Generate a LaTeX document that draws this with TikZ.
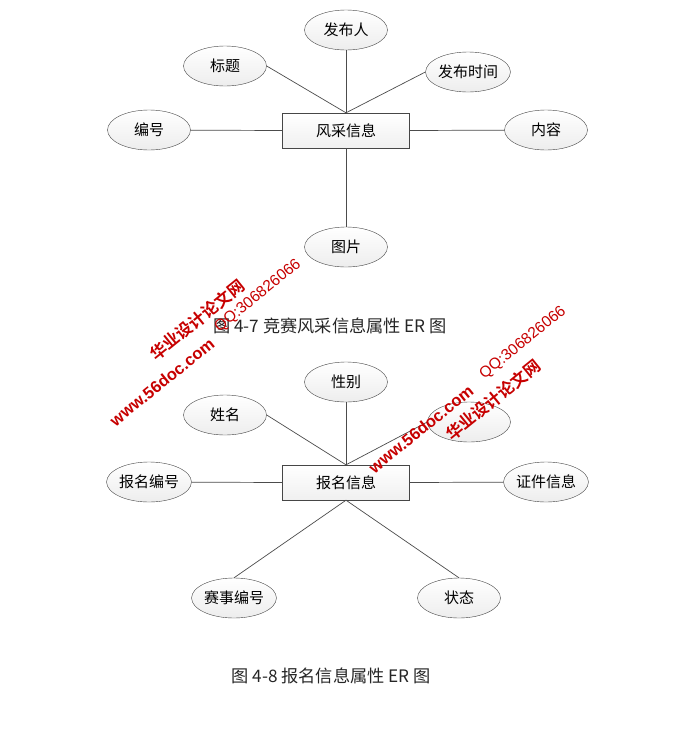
\documentclass[tikz,border=0pt]{standalone}
\usepackage{fontspec}
\setmainfont{Noto Sans CJK SC}[BoldFont={Noto Sans CJK SC Bold}]
\newfontfamily\wmfont{Liberation Sans}
\usetikzlibrary{shapes.geometric}

\begin{document}
\begin{tikzpicture}[x=1pt, y=-1pt,
    every node/.style={font=\fontsize{15}{17}\selectfont},
    attr/.style={ellipse, draw=gray!55!black, top color=white, bottom color=gray!14,
        minimum width=83pt, minimum height=40pt, inner sep=0pt},
    entity/.style={rectangle, draw=gray!55!black, top color=white, bottom color=gray!12,
        minimum width=127pt, minimum height=35pt, inner sep=0pt},
    link/.style={draw=gray!60!black, line width=0.7pt},
    caption/.style={font=\fontsize{17.2}{19}\selectfont, text=black!85},
    wmark/.style={text=red!78!black, rotate=39, inner sep=0pt}
]
\useasboundingbox[fill=white] (0,0) rectangle (696,745);

% --- FIRST DIAGRAM: 风采信息 ---
\node[entity] (fc) at (346,130.5) {风采信息};
\node[attr] (fbr) at (346,30) {发布人};
\node[attr] (bt) at (225,66) {标题};
\node[attr] (fbsj) at (468,72) {发布时间};
\node[attr] (bh) at (149,130) {编号};
\node[attr] (nr) at (546,130) {内容};
\node[attr] (tp) at (346,247) {图片};

\draw[link] (fc.north) -- (fbr);
\draw[link] (fc.north) -- (bt.east);
\draw[link] (fc.north) -- (fbsj.west);
\draw[link] (fc.west) -- (bh);
\draw[link] (fc.east) -- (nr);
\draw[link] (fc.south) -- (tp);

\node[caption] (cap1) at (330,326) {图 4-7 竞赛风采信息属性 ER 图};

% --- SECOND DIAGRAM: 报名信息 ---
\node[entity] (bm) at (346,482.5) {报名信息};
\node[attr] (xb) at (346,382) {性别};
\node[attr] (xm) at (225,415) {姓名};
\node[attr] (nl) at (469,422) {};
\node[attr] (bmbh) at (149,482) {报名编号};
\node[attr] (zjxx) at (546,482) {证件信息};
\node[attr] (ssbh) at (234,598) {赛事编号};
\node[attr] (zt) at (459,598) {状态};

\draw[link] (bm.north) -- (xb);
\draw[link] (bm.north) -- (xm.east);
\draw[link] (bm.north) -- (nl.west);
\draw[link] (bm.west) -- (bmbh);
\draw[link] (bm.east) -- (zjxx);
\draw[link] (bm.south) -- (ssbh.north);
\draw[link] (bm.south) -- (zt.north);

\node[caption] (cap2) at (331,676) {图 4-8 报名信息属性 ER 图};

% --- WATERMARKS ---
\node[wmark, font=\fontsize{16.5}{18}\selectfont\bfseries] (wmA) at (197,320) {华业设计论文网};
\node[wmark, font=\wmfont\fontsize{15.5}{17}\selectfont] (wmB) at (258,296) {QQ:306826066};
\node[wmark, font=\wmfont\fontsize{16.5}{18}\selectfont\bfseries] (wmC) at (162,382) {www.56doc.com};
\node[wmark, font=\fontsize{16.5}{18}\selectfont\bfseries] (wmD) at (493,400) {华业设计论文网};
\node[wmark, font=\wmfont\fontsize{15.5}{17}\selectfont] (wmE) at (523,343) {QQ:306826066};
\node[wmark, font=\wmfont\fontsize{16.5}{18}\selectfont\bfseries] (wmF) at (421,429) {www.56doc.com};

\end{tikzpicture}
\end{document}
